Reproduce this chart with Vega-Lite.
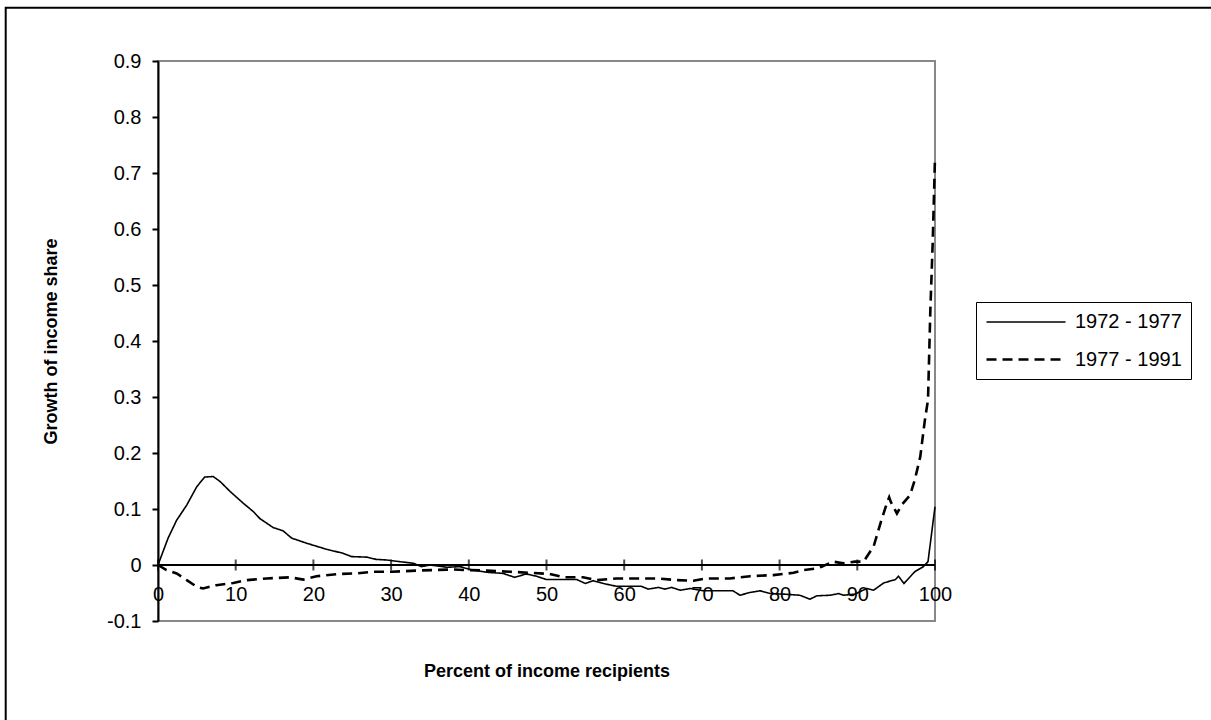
{
  "$schema": "https://vega.github.io/schema/vega-lite/v6.json",
  "width": 777,
  "height": 560,
  "autosize": {"type": "none"},
  "padding": {"left": 158, "top": 61, "right": 276, "bottom": 99},
  "background": "white",
  "config": {
    "font": "Liberation Sans",
    "view": {"stroke": "#888888", "strokeWidth": 2}
  },
  "datasets": {
    "curves": [
      {"p": 0, "g": 0, "series": "1972 - 1977"},
      {"p": 1.3, "g": 0.048, "series": "1972 - 1977"},
      {"p": 2.4, "g": 0.080, "series": "1972 - 1977"},
      {"p": 3.7, "g": 0.107, "series": "1972 - 1977"},
      {"p": 5.0, "g": 0.140, "series": "1972 - 1977"},
      {"p": 6.0, "g": 0.157, "series": "1972 - 1977"},
      {"p": 7.1, "g": 0.158, "series": "1972 - 1977"},
      {"p": 8.0, "g": 0.149, "series": "1972 - 1977"},
      {"p": 9.3, "g": 0.131, "series": "1972 - 1977"},
      {"p": 11.0, "g": 0.110, "series": "1972 - 1977"},
      {"p": 12.3, "g": 0.095, "series": "1972 - 1977"},
      {"p": 13.1, "g": 0.083, "series": "1972 - 1977"},
      {"p": 14.8, "g": 0.067, "series": "1972 - 1977"},
      {"p": 16.1, "g": 0.061, "series": "1972 - 1977"},
      {"p": 17.2, "g": 0.048, "series": "1972 - 1977"},
      {"p": 19.1, "g": 0.039, "series": "1972 - 1977"},
      {"p": 21.7, "g": 0.028, "series": "1972 - 1977"},
      {"p": 23.8, "g": 0.021, "series": "1972 - 1977"},
      {"p": 24.9, "g": 0.015, "series": "1972 - 1977"},
      {"p": 26.9, "g": 0.014, "series": "1972 - 1977"},
      {"p": 28.1, "g": 0.010, "series": "1972 - 1977"},
      {"p": 29.4, "g": 0.009, "series": "1972 - 1977"},
      {"p": 31.1, "g": 0.006, "series": "1972 - 1977"},
      {"p": 32.9, "g": 0.003, "series": "1972 - 1977"},
      {"p": 33.9, "g": -0.003, "series": "1972 - 1977"},
      {"p": 35.0, "g": 0.000, "series": "1972 - 1977"},
      {"p": 37.2, "g": -0.004, "series": "1972 - 1977"},
      {"p": 38.9, "g": -0.003, "series": "1972 - 1977"},
      {"p": 40.2, "g": -0.008, "series": "1972 - 1977"},
      {"p": 42.3, "g": -0.013, "series": "1972 - 1977"},
      {"p": 44.4, "g": -0.015, "series": "1972 - 1977"},
      {"p": 45.9, "g": -0.022, "series": "1972 - 1977"},
      {"p": 47.4, "g": -0.016, "series": "1972 - 1977"},
      {"p": 48.7, "g": -0.020, "series": "1972 - 1977"},
      {"p": 50.0, "g": -0.026, "series": "1972 - 1977"},
      {"p": 52.2, "g": -0.026, "series": "1972 - 1977"},
      {"p": 53.9, "g": -0.026, "series": "1972 - 1977"},
      {"p": 55.0, "g": -0.033, "series": "1972 - 1977"},
      {"p": 56.0, "g": -0.028, "series": "1972 - 1977"},
      {"p": 57.3, "g": -0.033, "series": "1972 - 1977"},
      {"p": 59.0, "g": -0.038, "series": "1972 - 1977"},
      {"p": 61.0, "g": -0.038, "series": "1972 - 1977"},
      {"p": 62.2, "g": -0.038, "series": "1972 - 1977"},
      {"p": 63.1, "g": -0.043, "series": "1972 - 1977"},
      {"p": 64.4, "g": -0.040, "series": "1972 - 1977"},
      {"p": 65.2, "g": -0.043, "series": "1972 - 1977"},
      {"p": 66.1, "g": -0.040, "series": "1972 - 1977"},
      {"p": 67.2, "g": -0.045, "series": "1972 - 1977"},
      {"p": 68.5, "g": -0.042, "series": "1972 - 1977"},
      {"p": 70.2, "g": -0.046, "series": "1972 - 1977"},
      {"p": 71.9, "g": -0.046, "series": "1972 - 1977"},
      {"p": 74.0, "g": -0.046, "series": "1972 - 1977"},
      {"p": 74.9, "g": -0.054, "series": "1972 - 1977"},
      {"p": 76.2, "g": -0.049, "series": "1972 - 1977"},
      {"p": 77.5, "g": -0.046, "series": "1972 - 1977"},
      {"p": 78.8, "g": -0.051, "series": "1972 - 1977"},
      {"p": 80.5, "g": -0.052, "series": "1972 - 1977"},
      {"p": 82.6, "g": -0.054, "series": "1972 - 1977"},
      {"p": 83.9, "g": -0.061, "series": "1972 - 1977"},
      {"p": 84.8, "g": -0.055, "series": "1972 - 1977"},
      {"p": 86.5, "g": -0.054, "series": "1972 - 1977"},
      {"p": 87.6, "g": -0.051, "series": "1972 - 1977"},
      {"p": 88.2, "g": -0.054, "series": "1972 - 1977"},
      {"p": 89.7, "g": -0.052, "series": "1972 - 1977"},
      {"p": 91.2, "g": -0.042, "series": "1972 - 1977"},
      {"p": 92.1, "g": -0.045, "series": "1972 - 1977"},
      {"p": 93.4, "g": -0.032, "series": "1972 - 1977"},
      {"p": 94.9, "g": -0.026, "series": "1972 - 1977"},
      {"p": 95.3, "g": -0.020, "series": "1972 - 1977"},
      {"p": 96.0, "g": -0.033, "series": "1972 - 1977"},
      {"p": 97.4, "g": -0.012, "series": "1972 - 1977"},
      {"p": 98.5, "g": -0.003, "series": "1972 - 1977"},
      {"p": 99.1, "g": 0.006, "series": "1972 - 1977"},
      {"p": 100, "g": 0.104, "series": "1972 - 1977"},
      {"p": 0, "g": 0, "series": "1977 - 1991"},
      {"p": 1.1, "g": -0.009, "series": "1977 - 1991"},
      {"p": 2.4, "g": -0.015, "series": "1977 - 1991"},
      {"p": 3.7, "g": -0.027, "series": "1977 - 1991"},
      {"p": 5.0, "g": -0.039, "series": "1977 - 1991"},
      {"p": 5.8, "g": -0.042, "series": "1977 - 1991"},
      {"p": 7.5, "g": -0.036, "series": "1977 - 1991"},
      {"p": 9.7, "g": -0.032, "series": "1977 - 1991"},
      {"p": 11.4, "g": -0.027, "series": "1977 - 1991"},
      {"p": 14.0, "g": -0.024, "series": "1977 - 1991"},
      {"p": 17.0, "g": -0.022, "series": "1977 - 1991"},
      {"p": 18.7, "g": -0.026, "series": "1977 - 1991"},
      {"p": 20.4, "g": -0.020, "series": "1977 - 1991"},
      {"p": 23.4, "g": -0.016, "series": "1977 - 1991"},
      {"p": 25.6, "g": -0.015, "series": "1977 - 1991"},
      {"p": 27.7, "g": -0.012, "series": "1977 - 1991"},
      {"p": 30.1, "g": -0.012, "series": "1977 - 1991"},
      {"p": 33.3, "g": -0.010, "series": "1977 - 1991"},
      {"p": 35.4, "g": -0.009, "series": "1977 - 1991"},
      {"p": 38.0, "g": -0.008, "series": "1977 - 1991"},
      {"p": 39.7, "g": -0.009, "series": "1977 - 1991"},
      {"p": 42.3, "g": -0.010, "series": "1977 - 1991"},
      {"p": 45.3, "g": -0.012, "series": "1977 - 1991"},
      {"p": 47.9, "g": -0.014, "series": "1977 - 1991"},
      {"p": 50.4, "g": -0.016, "series": "1977 - 1991"},
      {"p": 52.2, "g": -0.022, "series": "1977 - 1991"},
      {"p": 54.7, "g": -0.022, "series": "1977 - 1991"},
      {"p": 56.5, "g": -0.027, "series": "1977 - 1991"},
      {"p": 59.0, "g": -0.024, "series": "1977 - 1991"},
      {"p": 62.0, "g": -0.024, "series": "1977 - 1991"},
      {"p": 64.2, "g": -0.024, "series": "1977 - 1991"},
      {"p": 66.8, "g": -0.027, "series": "1977 - 1991"},
      {"p": 68.9, "g": -0.028, "series": "1977 - 1991"},
      {"p": 70.6, "g": -0.024, "series": "1977 - 1991"},
      {"p": 73.6, "g": -0.024, "series": "1977 - 1991"},
      {"p": 76.2, "g": -0.020, "series": "1977 - 1991"},
      {"p": 79.2, "g": -0.018, "series": "1977 - 1991"},
      {"p": 81.8, "g": -0.014, "series": "1977 - 1991"},
      {"p": 83.1, "g": -0.009, "series": "1977 - 1991"},
      {"p": 84.8, "g": -0.006, "series": "1977 - 1991"},
      {"p": 85.4, "g": -0.003, "series": "1977 - 1991"},
      {"p": 86.9, "g": 0.006, "series": "1977 - 1991"},
      {"p": 88.2, "g": 0.003, "series": "1977 - 1991"},
      {"p": 89.7, "g": 0.006, "series": "1977 - 1991"},
      {"p": 90.8, "g": 0.006, "series": "1977 - 1991"},
      {"p": 92.1, "g": 0.033, "series": "1977 - 1991"},
      {"p": 93.1, "g": 0.080, "series": "1977 - 1991"},
      {"p": 93.8, "g": 0.110, "series": "1977 - 1991"},
      {"p": 94.1, "g": 0.121, "series": "1977 - 1991"},
      {"p": 94.3, "g": 0.113, "series": "1977 - 1991"},
      {"p": 95.1, "g": 0.092, "series": "1977 - 1991"},
      {"p": 95.7, "g": 0.107, "series": "1977 - 1991"},
      {"p": 96.8, "g": 0.125, "series": "1977 - 1991"},
      {"p": 97.4, "g": 0.152, "series": "1977 - 1991"},
      {"p": 98.1, "g": 0.193, "series": "1977 - 1991"},
      {"p": 98.7, "g": 0.259, "series": "1977 - 1991"},
      {"p": 99.1, "g": 0.295, "series": "1977 - 1991"},
      {"p": 99.4, "g": 0.455, "series": "1977 - 1991"},
      {"p": 99.7, "g": 0.574, "series": "1977 - 1991"},
      {"p": 99.9, "g": 0.676, "series": "1977 - 1991"},
      {"p": 100, "g": 0.729, "series": "1977 - 1991"}
    ],
    "xticks": [
      {"t": 0}, {"t": 10}, {"t": 20}, {"t": 30}, {"t": 40}, {"t": 50},
      {"t": 60}, {"t": 70}, {"t": 80}, {"t": 90}, {"t": 100}
    ]
  },
  "layer": [
    {
      "data": {"values": [{"frame": 1}]},
      "mark": {"type": "rect", "fill": null, "fillOpacity": 0, "stroke": "black", "strokeWidth": 2},
      "encoding": {
        "x": {"datum": -19.6, "type": "quantitative"},
        "x2": {"datum": 140},
        "y": {"datum": 0.995, "type": "quantitative"},
        "y2": {"datum": -0.5}
      }
    },
    {
      "data": {"values": [{"zero": 0}]},
      "mark": {"type": "rule", "color": "black", "strokeWidth": 2},
      "encoding": {
        "y": {"field": "zero", "type": "quantitative"}
      }
    },
    {
      "data": {"name": "xticks"},
      "mark": {"type": "tick", "orient": "vertical", "color": "black", "size": 11, "thickness": 2},
      "encoding": {
        "x": {"field": "t", "type": "quantitative"},
        "y": {"datum": 0, "type": "quantitative"}
      }
    },
    {
      "data": {"name": "curves"},
      "mark": {"type": "line", "color": "black", "strokeCap": "butt"},
      "encoding": {
        "x": {
          "field": "p",
          "type": "quantitative",
          "scale": {"domain": [0, 100], "nice": false},
          "axis": {
            "title": "Percent of income recipients",
            "titleFontSize": 18,
            "titleFontWeight": "bold",
            "titleColor": "black",
            "titlePadding": 58,
            "values": [0, 10, 20, 30, 40, 50, 60, 70, 80, 90, 100],
            "offset": -56,
            "domain": false,
            "ticks": false,
            "grid": false,
            "labelFontSize": 20,
            "labelColor": "black",
            "labelPadding": 19,
            "labelFlush": false,
            "labelOverlap": false
          }
        },
        "y": {
          "field": "g",
          "type": "quantitative",
          "scale": {"domain": [-0.1, 0.9], "nice": false, "zero": false},
          "axis": {
            "title": "Growth of income share",
            "titleFontSize": 18,
            "titleFontWeight": "bold",
            "titleColor": "black",
            "titlePadding": 46,
            "values": [-0.1, 0, 0.1, 0.2, 0.3, 0.4, 0.5, 0.6, 0.7, 0.8, 0.9],
            "labelExpr": "replace(format(datum.value, '.1~f'), '\u2212', '-')",
            "grid": false,
            "domainColor": "black",
            "domainWidth": 2,
            "tickColor": "black",
            "tickWidth": 2,
            "tickSize": 6,
            "labelFontSize": 20,
            "labelColor": "black",
            "labelPadding": 11,
            "labelFlush": false,
            "labelOverlap": false
          }
        },
        "strokeDash": {
          "field": "series",
          "type": "nominal",
          "scale": {"domain": ["1972 - 1977", "1977 - 1991"], "range": [[1, 0], [10, 6]]},
          "legend": {
            "title": null,
            "orient": "none",
            "legendX": 818,
            "legendY": 241,
            "strokeColor": "black",
            "fillColor": "white",
            "padding": 9,
            "symbolType": "M-1,0H6.9",
            "symbolSize": 400,
            "symbolStrokeColor": "black",
            "symbolStrokeWidth": 2,
            "labelFontSize": 20,
            "labelColor": "black",
            "labelOffset": 67,
            "rowPadding": 16
          }
        },
        "strokeWidth": {
          "field": "series",
          "type": "nominal",
          "scale": {"domain": ["1972 - 1977", "1977 - 1991"], "range": [1.6, 2.6]},
          "legend": null
        }
      }
    }
  ]
}
